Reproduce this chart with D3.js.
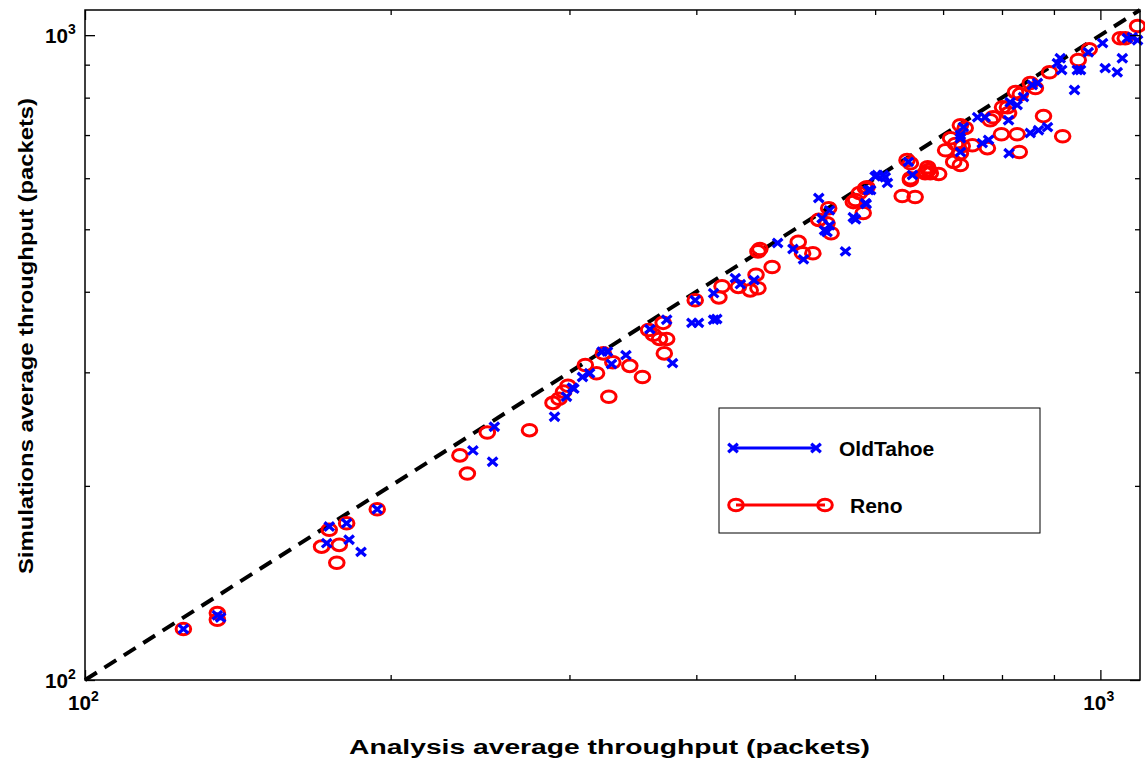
<!DOCTYPE html>
<html>
<head>
<meta charset="utf-8">
<script src="https://cdn.jsdelivr.net/npm/d3@7"></script>
<style>
  body { margin: 0; background: #fff; }
  svg { display: block; font-family: "Liberation Sans", Arial, sans-serif; }
</style>
</head>
<body>
<svg id="chart" width="1145" height="767"></svg>
<script>
// [analysis, simulation] throughput, packets
const renoPoints = [
  [125, 120], [135, 124], [135, 127], [174, 171], [181, 175], [171, 161], [178, 162],
  [177, 152], [194, 184], [238, 209], [234, 223], [249, 242], [274, 244], [289, 269],
  [293, 273], [296, 280], [299, 286], [311, 308], [319, 299], [328, 275], [324, 321],
  [331, 311], [344, 307], [354, 295], [359, 349], [371, 358], [363, 343], [368, 338],
  [374, 338], [372, 321], [399, 388], [424, 408], [421, 392], [440, 407], [452, 402],
  [460, 405], [458, 425], [462, 466], [460, 462], [475, 437], [504, 478], [509, 459],
  [521, 459], [528, 517], [540, 539], [538, 511], [543, 493], [571, 551], [584, 530],
  [579, 569], [589, 581], [638, 563], [657, 561], [650, 600], [650, 633], [672, 611],
  [1088, 1033], [1046, 989], [1058, 989], [975, 951], [951, 915], [891, 876], [879, 749],
  [918, 697], [828, 702], [799, 702], [832, 659], [863, 828], [853, 843], [834, 810],
  [825, 816], [810, 773], [801, 773], [812, 757], [784, 746], [779, 738], [774, 668],
  [728, 725], [736, 718], [712, 692], [720, 678], [731, 673], [748, 675], [704, 663],
  [728, 656], [717, 636], [728, 629], [645, 640], [650, 596], [676, 624], [677, 618],
  [680, 611], [693, 609], [674, 613], [587, 579], [574, 555]
]

const oldTahoePoints = [
  [125, 120], [135, 126], [136, 125], [174, 173], [181, 175], [173, 163], [182, 165],
  [187, 158], [194, 184], [241, 227], [252, 218], [253, 247], [290, 256], [298, 275],
  [302, 284], [303, 283], [309, 295], [314, 299], [323, 323], [327, 323], [330, 309],
  [341, 319], [360, 350], [374, 362], [379, 310], [399, 388], [396, 358], [402, 358],
  [416, 362], [419, 363], [416, 398], [437, 420], [442, 411], [456, 417], [481, 476],
  [498, 466], [510, 449], [528, 559], [541, 535], [532, 520], [541, 507], [538, 495],
  [535, 498], [561, 462], [574, 518], [588, 547], [591, 575], [600, 604], [611, 607],
  [617, 590], [653, 607], [647, 636], [1063, 989], [1088, 982], [1075, 993], [1005, 972],
  [1051, 921], [1011, 889], [1039, 876], [973, 941], [949, 883], [956, 883], [943, 822],
  [913, 921], [907, 905], [916, 883], [887, 720], [869, 712], [853, 705], [813, 656],
  [857, 837], [867, 843], [840, 802], [815, 787], [828, 779], [812, 738], [770, 746],
  [757, 746], [776, 688], [765, 680], [733, 720], [728, 692], [728, 700], [728, 659],
  [603, 607], [614, 602], [594, 575], [587, 549], [571, 522]
]

const axisDomain = [100, 1094]
const majorTicks = [100, 1000]
const minorTicks = [200, 300, 400, 500, 600, 700, 800, 900]
const seriesNames = ['OldTahoe', 'Reno']

const margin = { left: 85, right: 1140, top: 10, bottom: 680 }

const svg = d3.select('#chart')

const x = d3.scaleLog().domain(axisDomain).range([margin.left, margin.right])
const y = d3.scaleLog().domain(axisDomain).range([margin.bottom, margin.top])

// identity line
svg.append('line')
  .attr('x1', x(axisDomain[0])).attr('y1', y(axisDomain[0]))
  .attr('x2', x(axisDomain[1])).attr('y2', y(axisDomain[1]))
  .attr('stroke', '#000')
  .attr('stroke-width', 4)
  .attr('stroke-dasharray', '14,9')

// Reno circles
svg.selectAll('.reno')
  .data(renoPoints)
  .enter().append('ellipse')
  .attr('class', 'reno')
  .attr('cx', d => x(d[0]))
  .attr('cy', d => y(d[1]))
  .attr('rx', 7.3)
  .attr('ry', 5.8)
  .attr('fill', 'none')
  .attr('stroke', '#ff0000')
  .attr('stroke-width', 3)

// OldTahoe crosses
const cross = 'M-4.8,-4.2 L4.8,4.2 M-4.8,4.2 L4.8,-4.2'
svg.selectAll('.tahoe')
  .data(oldTahoePoints)
  .enter().append('path')
  .attr('class', 'tahoe')
  .attr('transform', d => `translate(${x(d[0])},${y(d[1])})`)
  .attr('d', cross)
  .attr('stroke', '#0000ff')
  .attr('stroke-width', 3.3)
  .attr('fill', 'none')

// axes: ticks on all four sides, pointing inwards
function drawAxis(axisFn, scale, transform, size) {
  svg.append('g')
    .attr('transform', transform)
    .call(axisFn(scale).tickValues(minorTicks).tickSize(size).tickFormat(''))
    .call(g => g.select('.domain').remove())
  svg.append('g')
    .attr('transform', transform)
    .call(axisFn(scale).tickValues(majorTicks).tickSize(size * 2).tickFormat(''))
    .call(g => g.select('.domain').remove())
}
drawAxis(d3.axisBottom, x, `translate(0,${margin.bottom})`, -5)
drawAxis(d3.axisTop, x, `translate(0,${margin.top})`, -5)
drawAxis(d3.axisLeft, y, `translate(${margin.left},0)`, -5)
drawAxis(d3.axisRight, y, `translate(${margin.right},0)`, -5)
svg.selectAll('.tick line').attr('stroke', '#000').attr('stroke-width', 1.3)

svg.append('rect')
  .attr('x', margin.left).attr('y', margin.top)
  .attr('width', margin.right - margin.left)
  .attr('height', margin.bottom - margin.top)
  .attr('fill', 'none')
  .attr('stroke', '#000')
  .attr('stroke-width', 1.5)

// tick labels, 10^n
function powerLabel(sel, v) {
  const exp = Math.round(Math.log10(v))
  sel.append('tspan').attr('textLength', 23).attr('lengthAdjust', 'spacingAndGlyphs').text('10')
  sel.append('tspan').attr('font-size', 14).attr('dy', -9).text(exp)
}

svg.selectAll('.xlabel')
  .data(majorTicks)
  .enter().append('text')
  .attr('class', 'xlabel')
  .attr('x', d => x(d) - 17)
  .attr('y', 710)
  .attr('font-size', 20)
  .attr('font-weight', 'bold')
  .each(function(d) { powerLabel(d3.select(this), d) })

svg.selectAll('.ylabel')
  .data(majorTicks)
  .enter().append('text')
  .attr('class', 'ylabel')
  .attr('x', 45)
  .attr('y', d => y(d) + 8)
  .attr('font-size', 20)
  .attr('font-weight', 'bold')
  .each(function(d) { powerLabel(d3.select(this), d) })

// axis titles
svg.append('text')
  .attr('x', 349)
  .attr('y', 754)
  .attr('font-size', 20)
  .attr('font-weight', 'bold')
  .attr('textLength', 521)
  .attr('lengthAdjust', 'spacingAndGlyphs')
  .text('Analysis average throughput (packets)')

svg.append('text')
  .attr('transform', 'translate(33,574) rotate(-90)')
  .attr('font-size', 21)
  .attr('font-weight', 'bold')
  .attr('textLength', 476)
  .attr('lengthAdjust', 'spacingAndGlyphs')
  .text('Simulations average throughput (packets)')

// legend
const legend = svg.append('g')
legend.append('rect')
  .attr('x', 719).attr('y', 408)
  .attr('width', 321).attr('height', 125)
  .attr('fill', '#fff')
  .attr('stroke', '#000')
  .attr('stroke-width', 1)

const legendRows = [
  { name: seriesNames[0], color: '#0000ff', y: 448, x1: 733, x2: 816, tx: 839 },
  { name: seriesNames[1], color: '#ff0000', y: 505, x1: 736, x2: 825, tx: 850 }
]
legendRows.forEach((r, i) => {
  legend.append('line')
    .attr('x1', r.x1).attr('x2', r.x2)
    .attr('y1', r.y).attr('y2', r.y)
    .attr('stroke', r.color).attr('stroke-width', 3)
  ;[r.x1, r.x2].forEach(cx => {
    if (i === 0) {
      legend.append('path')
        .attr('transform', `translate(${cx},${r.y})`)
        .attr('d', cross)
        .attr('stroke', r.color).attr('stroke-width', 3.3).attr('fill', 'none')
    } else {
      legend.append('ellipse')
        .attr('cx', cx).attr('cy', r.y)
        .attr('rx', 7.3).attr('ry', 5.8)
        .attr('fill', 'none')
        .attr('stroke', r.color).attr('stroke-width', 3)
    }
  })
  legend.append('text')
    .attr('x', r.tx)
    .attr('y', r.y + 8)
    .attr('font-size', 21)
    .attr('font-weight', 'bold')
    .text(r.name)
})
</script>
</body>
</html>
